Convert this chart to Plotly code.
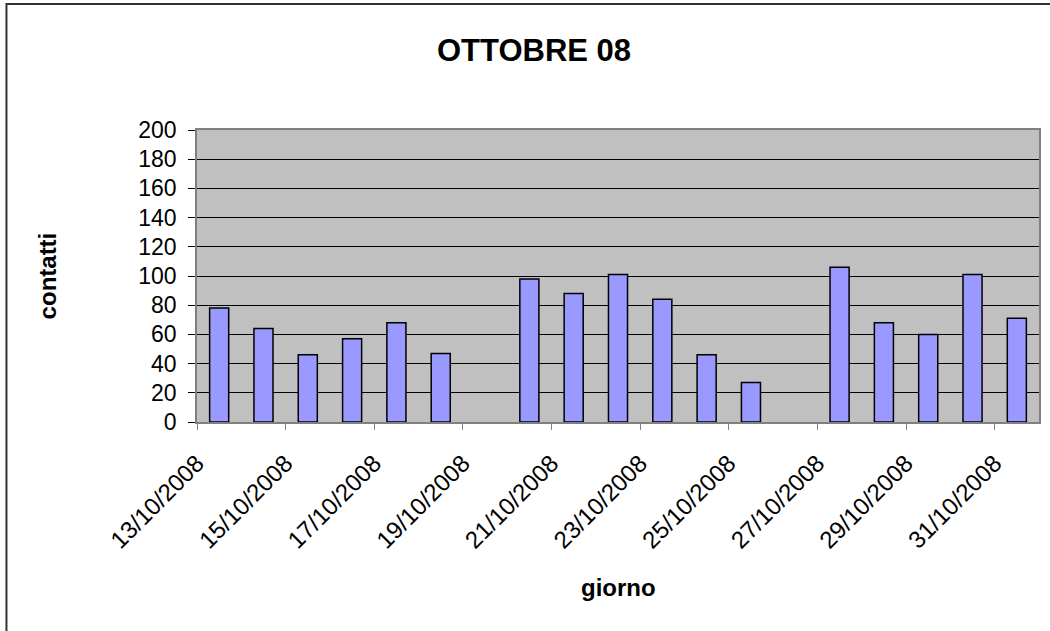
import plotly.graph_objects as go

# daily contacts, October 2008 (no data on the two Sundays)
giorni = ['2008-10-13', '2008-10-14', '2008-10-15', '2008-10-16', '2008-10-17',
          '2008-10-18', '2008-10-19', '2008-10-20', '2008-10-21', '2008-10-22',
          '2008-10-23', '2008-10-24', '2008-10-25', '2008-10-26', '2008-10-27',
          '2008-10-28', '2008-10-29', '2008-10-30', '2008-10-31']
contatti = [78, 64, 46, 57, 68, 47, None, 98, 88, 101,
            84, 46, 27, None, 106, 68, 60, 101, 71]
y_ticks = list(range(0, 201, 20))

DAY_MS = 86400000
FONT = 'Liberation Sans, Arial, sans-serif'

fig = go.Figure()
fig.add_trace(go.Bar(x=giorni, y=contatti, name='contatti',
                     xperiod=DAY_MS, xperiodalignment='middle',
                     marker=dict(color='#9999FF', line=dict(color='black', width=1.5))))

fig.update_layout(
    width=1050, height=631,
    margin=dict(l=197, r=9, t=130, b=209),
    paper_bgcolor='white', plot_bgcolor='#C0C0C0',
    bargap=0.57, showlegend=False,
    font=dict(family=FONT, size=23, color='black'),
    title=dict(text='<b>OTTOBRE 08</b>', x=534 / 1050, xref='container', xanchor='center',
               y=1 - 50 / 631, yanchor='middle', font=dict(size=31, family=FONT)),
)
fig.update_xaxes(type='date', range=['2008-10-13', '2008-11-01'],
                 tick0='2008-10-13', dtick=2 * DAY_MS, tickformat='%d/%m/%Y',
                 tickangle=-45, ticks='outside', ticklen=6, tickcolor='#808080',
                 ticklabelstandoff=10,
                 showline=True, linecolor='#808080', linewidth=1.5, mirror=True,
                 showgrid=False, zeroline=False, tickfont=dict(size=24))
fig.update_yaxes(range=[0, 200], tickvals=y_ticks, ticks='outside', ticklen=7,
                 tickcolor='black', ticklabelstandoff=7,
                 showline=True, linecolor='#808080', linewidth=1.5,
                 mirror=True, showgrid=True, gridcolor='black', gridwidth=1,
                 zeroline=False, tickfont=dict(size=23))

fig.add_annotation(text='<b>contatti</b>', xref='paper', yref='paper',
                   x=-0.1777, y=0.5, xanchor='center', yanchor='middle',
                   textangle=-90, showarrow=False, font=dict(size=24, family=FONT))
fig.add_annotation(text='<b>giorno</b>', xref='paper', yref='paper',
                   x=0.501, y=-0.568, xanchor='center', yanchor='middle',
                   showarrow=False, font=dict(size=24, family=FONT))

# chart area border (right and bottom edges fall outside the picture)
fig.add_shape(type='rect', xref='paper', yref='paper',
              x0=-0.2263, y0=-1.0, x1=1.2, y1=1.4315,
              line=dict(color='#333333', width=2), layer='below')

fig.write_html("out.html", config={'displayModeBar': False},
               post_script="document.body.style.margin='0';")
